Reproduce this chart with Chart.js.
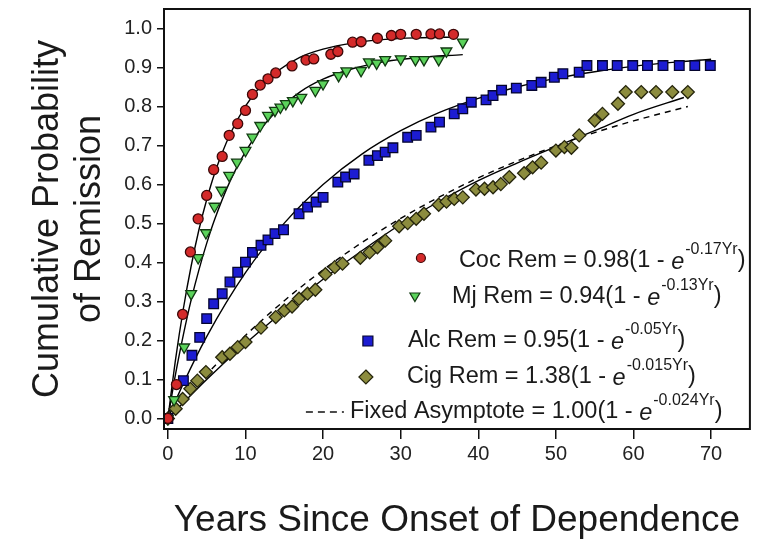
<!DOCTYPE html>
<html><head><meta charset="utf-8">
<script src="https://cdn.jsdelivr.net/npm/chart.js@4.4.1/dist/chart.umd.min.js"></script>
<style>html,body{margin:0;padding:0;background:#fff;}#wrap{width:758px;height:545px;}</style>
</head><body><div id="wrap"><canvas id="c" width="758" height="545"></canvas></div>
<script>
// ---- tick values ----
const xTickValues = [0,10,20,30,40,50,60,70];
const yTickValues = [0,0.1,0.2,0.3,0.4,0.5,0.6,0.7,0.8,0.9,1.0];

// ---- observed data ----
const cocX = [0,1.1,1.9,2.9,3.9,5.0,5.9,7.0,7.9,9.0,10.0,10.9,11.9,12.9,13.9,16.0,17.8,18.8,21.0,21.9,23.8,24.9,27.0,28.8,30.0,32.0,33.9,35.0,36.8];
const cocY = [0,0.087,0.267,0.427,0.512,0.572,0.638,0.672,0.726,0.756,0.79,0.831,0.855,0.871,0.886,0.904,0.919,0.922,0.934,0.941,0.965,0.966,0.975,0.982,0.985,0.985,0.986,0.986,0.985];

const mjX = [0,0.8,2.1,3.0,3.9,4.9,6.0,6.9,7.9,8.9,10.0,10.9,11.9,12.9,13.8,14.5,15.2,16.1,17.2,19.0,20.0,22.0,23.0,24.9,25.9,26.9,28.0,30.0,31.9,33.0,34.9,35.9,38.0];
const mjY = [0,0.048,0.183,0.32,0.412,0.476,0.544,0.585,0.623,0.657,0.687,0.721,0.751,0.777,0.79,0.798,0.807,0.815,0.823,0.841,0.858,0.879,0.891,0.892,0.914,0.911,0.92,0.922,0.92,0.92,0.92,0.942,0.965];

const alcX = [0,2.0,3.1,4.1,5.0,5.9,7.0,8.0,9.0,10.0,10.9,12.0,12.9,13.8,14.9,16.9,18.0,19.1,20.0,21.9,22.9,24.0,25.9,27.0,28.0,29.0,30.9,32.0,33.9,35.0,36.9,38.0,39.1,41.0,41.9,43.0,44.9,46.9,48.1,49.8,50.9,53.0,54.0,56.0,57.9,59.9,61.8,63.8,65.9,67.9,69.9];
const alcY = [0,0.097,0.162,0.208,0.256,0.294,0.32,0.35,0.375,0.401,0.426,0.444,0.458,0.474,0.484,0.525,0.542,0.555,0.567,0.606,0.619,0.627,0.662,0.674,0.683,0.694,0.721,0.726,0.747,0.76,0.781,0.794,0.811,0.817,0.828,0.842,0.847,0.854,0.862,0.875,0.884,0.888,0.905,0.905,0.905,0.905,0.905,0.905,0.905,0.905,0.905];

const cigX = [0,1.0,1.9,2.9,3.8,4.9,7.0,8.0,9.0,10.0,12.0,13.9,15.0,16.0,16.9,18.0,19.0,20.3,21.5,22.5,24.8,26.0,27.0,28.0,29.8,30.9,32.0,33.0,34.9,35.9,36.9,38.0,39.7,40.8,41.9,42.9,44.0,45.9,47.0,48.1,50.0,51.1,52.0,53.0,55.0,56.0,58.0,59.0,61.0,62.9,65.0,67.0];
const cigY = [0,0.025,0.05,0.076,0.097,0.119,0.157,0.166,0.183,0.196,0.233,0.26,0.277,0.287,0.307,0.32,0.33,0.37,0.388,0.397,0.412,0.426,0.439,0.456,0.493,0.501,0.512,0.525,0.548,0.556,0.563,0.567,0.587,0.589,0.593,0.601,0.619,0.629,0.644,0.656,0.687,0.696,0.694,0.726,0.764,0.781,0.807,0.837,0.837,0.837,0.837,0.837];

// ---- fitted curves ----
const fitCocX = [0,1,2,3,4,5,6,8,10,12,14,17,20,24,28,32,37];
const fitCocY = [0,0.153,0.282,0.391,0.484,0.561,0.627,0.728,0.801,0.853,0.889,0.926,0.947,0.963,0.972,0.976,0.978];
const fitMjX = [0,1,2,3,4,5,6,8,10,12,14,17,20,24,28,32,38];
const fitMjY = [0,0.115,0.215,0.304,0.381,0.449,0.509,0.608,0.684,0.743,0.788,0.837,0.870,0.898,0.915,0.925,0.933];
const fitAlcX = [0,2,5,10,15,20,25,30,35,40,45,50,55,60,65,70];
const fitAlcY = [0,0.090,0.210,0.374,0.501,0.600,0.678,0.738,0.785,0.821,0.850,0.872,0.889,0.903,0.913,0.921];
const fitCigX = [0,5,10,15,20,25,30,35,40,45,50,55,60,66.5];
const fitCigY = [0,0.1,0.192,0.277,0.357,0.43,0.498,0.557,0.61,0.655,0.697,0.738,0.78,0.823];
const fixedX = [0,5,10,15,20,25,30,35,40,45,50,55,60,67];
const fixedY = [0,0.113,0.213,0.302,0.381,0.451,0.513,0.568,0.617,0.660,0.699,0.733,0.763,0.80];

// ---- legend text ----
const legendPre = ['Coc Rem = 0.98(1 - ','Mj Rem = 0.94(1 - ','Alc Rem = 0.95(1 - ','Cig Rem = 1.38(1 - ','Fixed Asymptote = 1.00(1 - '];
const legendExp = ['-0.17Yr','-0.13Yr','-0.05Yr','-0.015Yr','-0.024Yr'];

const xTitle = 'Years Since Onset of Dependence';
const yTitle = ['Cumulative Probability','of Remission'];

const FONT = '"Liberation Sans", Arial, Helvetica, sans-serif';
const COLORS = {
  coc: {fill:'#d42a2a', edge:'#3c0808'},
  mj:  {fill:'#5bd35b', edge:'#123a12'},
  alc: {fill:'#1c1cd2', edge:'#05052e'},
  cig: {fill:'#8c8c3e', edge:'#25250c'}
};

const pts = (xs, ys) => xs.map((x,i)=>({x:x, y:ys[i]}));

function fitDs(xs, ys, dash) {
  return {type:'line', data:pts(xs,ys), borderColor:'#000', borderWidth:1.4, borderDash:dash||[],
    pointRadius:0, fill:false, cubicInterpolationMode:'monotone', order:5};
}
function ptDs(xs, ys, c, style, r, rot, order) {
  return {type:'scatter', data:pts(xs,ys), showLine:false, pointStyle:style, pointRadius:r, pointHoverRadius:r,
    pointRotation:rot, backgroundColor:c.fill, borderColor:c.edge, pointBorderWidth:1.3, borderWidth:1.3, order:order};
}
function noPad(s){ s.paddingTop=0; s.paddingBottom=0; s.paddingLeft=0; s.paddingRight=0; }

const framePlugin = {
  id:'frame',
  afterDatasetsDraw(chart){
    const {ctx, chartArea:a} = chart;
    ctx.save(); ctx.strokeStyle='#111'; ctx.lineWidth=2;
    ctx.strokeRect(a.left, a.top, a.right-a.left, a.bottom-a.top);
    ctx.restore();
  }
};

const legendPlugin = {
  id:'eqlegend',
  afterDraw(chart){
    const {ctx, chartArea:a} = chart;
    const rows = [
      {mk:'circle',   c:COLORS.coc, mx:a.right-329, tx:a.right-291, y:a.top+252},
      {mk:'triangle', c:COLORS.mj,  mx:a.right-335, tx:a.right-298, y:a.top+288},
      {mk:'square',   c:COLORS.alc, mx:a.right-382, tx:a.right-342, y:a.top+332},
      {mk:'diamond',  c:COLORS.cig, mx:a.right-384, tx:a.right-343, y:a.top+368},
      {mk:'dash',     c:null,       mx:a.right-444, tx:a.right-400, y:a.top+403}
    ];
    ctx.save();
    rows.forEach((r,i)=>{
      ctx.lineWidth = 1.2;
      if (r.c){ ctx.fillStyle=r.c.fill; ctx.strokeStyle=r.c.edge; }
      ctx.beginPath();
      if (r.mk==='circle'){ ctx.arc(r.mx, r.y-3, 4.5, 0, Math.PI*2); }
      else if (r.mk==='triangle'){ ctx.moveTo(r.mx-5, r.y-4); ctx.lineTo(r.mx+5, r.y-4); ctx.lineTo(r.mx, r.y+4.5); ctx.closePath(); }
      else if (r.mk==='square'){ ctx.rect(r.mx-5, r.y-5, 10, 10); }
      else if (r.mk==='diamond'){ ctx.moveTo(r.mx, r.y-7); ctx.lineTo(r.mx+7, r.y); ctx.lineTo(r.mx, r.y+7); ctx.lineTo(r.mx-7, r.y); ctx.closePath(); }
      if (r.mk==='dash'){
        ctx.strokeStyle='#111'; ctx.lineWidth=1.6; ctx.setLineDash([7,5]);
        ctx.moveTo(r.mx, r.y); ctx.lineTo(r.mx+38, r.y); ctx.stroke(); ctx.setLineDash([]);
      } else { ctx.fill(); ctx.stroke(); }
      let x = r.tx; const y = r.y;
      ctx.fillStyle='#1a1a1a'; ctx.textBaseline='middle'; ctx.textAlign='left';
      ctx.font = '23.5px ' + FONT;
      ctx.fillText(legendPre[i], x, y); x += ctx.measureText(legendPre[i]).width;
      ctx.font = 'italic 23.5px ' + FONT;
      ctx.fillText('e', x, y+1); x += ctx.measureText('e').width + 1;
      ctx.font = '16px ' + FONT;
      ctx.fillText(legendExp[i], x, y-11); x += ctx.measureText(legendExp[i]).width;
      ctx.font = '23.5px ' + FONT;
      ctx.fillText(')', x, y);
    });
    ctx.restore();
  }
};

new Chart(document.getElementById('c'), {
  type:'scatter',
  data:{datasets:[
    ptDs(cocX, cocY, COLORS.coc, 'circle', 5, 0, 1),
    ptDs(mjX, mjY, COLORS.mj, 'triangle', 6.2, 180, 2),
    ptDs(alcX, alcY, COLORS.alc, 'rect', 6.8, 0, 3),
    ptDs(cigX, cigY, COLORS.cig, 'rectRot', 6.5, 0, 4),
    fitDs(fitCocX, fitCocY),
    fitDs(fitMjX, fitMjY),
    fitDs(fitAlcX, fitAlcY),
    fitDs(fitCigX, fitCigY),
    fitDs(fixedX, fixedY, [6,5])
  ]},
  options:{
    responsive:false, animation:false, devicePixelRatio:1,
    layout:{padding:{top:9, right:8, left:0, bottom:0}},
    plugins:{legend:{display:false}, tooltip:{enabled:false}},
    scales:{
      x:{type:'linear', min:-0.5, max:75,
        afterFit(s){ s.height = 116; noPad(s); },
        afterBuildTicks(s){ s.ticks = xTickValues.map(v=>({value:v})); },
        ticks:{font:{family:FONT, size:20}, color:'#222', padding:3, maxRotation:0, callback:v=>String(v)},
        grid:{drawOnChartArea:false, drawTicks:true, tickLength:10, color:'#111', lineWidth:1.5},
        border:{display:false},
        title:{display:true, text:xTitle, font:{family:FONT, size:37}, color:'#1a1a1a', padding:{top:0,bottom:2}}
      },
      y:{type:'linear', min:-0.027, max:1.05,
        afterFit(s){ s.width = 164; noPad(s); },
        afterBuildTicks(s){ s.ticks = yTickValues.map(v=>({value:v})); },
        ticks:{font:{family:FONT, size:20}, color:'#222', padding:5, callback:v=>Number(v).toFixed(1)},
        grid:{drawOnChartArea:false, drawTicks:true, tickLength:7, color:'#111', lineWidth:1.5},
        border:{display:false},
        title:{display:true, text:yTitle, font:{family:FONT, size:36, lineHeight:1.17}, color:'#1a1a1a', padding:{top:27,bottom:0}}
      }
    }
  },
  plugins:[framePlugin, legendPlugin]
});
</script></body></html>
